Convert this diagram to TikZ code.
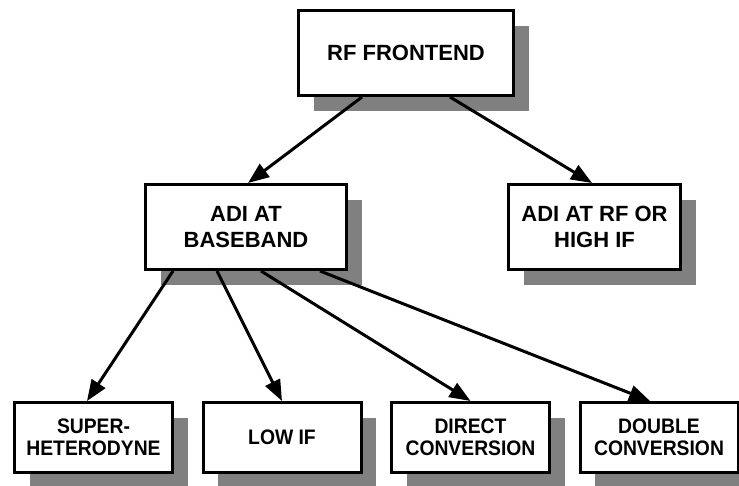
\documentclass[tikz,border=0pt]{standalone}
\usepackage{fontspec}
\setmainfont{Liberation Sans}
\newfontfamily\narrowsans[FakeStretch=0.92]{Liberation Sans}
\usetikzlibrary{arrows.meta,shadows}
\tikzset{
  box/.style={draw=black, line width=3pt, fill=white, align=center,
    font=\bfseries\fontsize{22}{26}\selectfont, inner sep=0pt,
    drop shadow={shadow xshift=15pt, shadow yshift=-15pt, fill=black!50, opacity=1}},
  topbox/.style={box, minimum height=85pt},
  leafbox/.style={box, minimum width=158pt, minimum height=70pt,
    font=\narrowsans\bfseries\fontsize{21}{22}\selectfont},
  arr/.style={line width=3pt, -{Triangle[length=21pt,width=16pt]}}
}
\begin{document}
\begin{tikzpicture}[x=1pt,y=-1pt]
  \useasboundingbox (0,0) rectangle (739,485);

  % upper levels
  \node[topbox, minimum width=215pt] (rf)   at (406,53)    {RF FRONTEND};
  \node[topbox, minimum width=201pt] (bb)   at (246,227)   {ADI AT\\BASEBAND};
  \node[topbox, minimum width=172pt] (rfhi) at (594.5,227) {ADI AT RF OR\\HIGH IF};

  % architectures at baseband
  \node[leafbox] (sh) at (93.5,437.5)  {SUPER-\\HETERODYNE};
  \node[leafbox] (lo) at (282,437.5)   {LOW IF};
  \node[leafbox] (dc) at (470.5,437.5) {DIRECT\\CONVERSION};
  \node[leafbox] (db) at (659,437.5)   {DOUBLE\\CONVERSION};

  % connectors
  \draw[arr] ([xshift=-44pt]rf.south) -- ([xshift=2pt]bb.north);
  \draw[arr] ([xshift=44pt]rf.south)  -- ([xshift=-2.5pt]rfhi.north);

  \draw[arr] ([xshift=-73pt]bb.south) -- ([xshift=-6.5pt]sh.north);
  \draw[arr] ([xshift=-29pt]bb.south) -- (lo.north);
  \draw[arr] ([xshift=15pt]bb.south)  -- (dc.north);
  \draw[arr] ([xshift=74pt]bb.south)  -- ([xshift=-9pt]db.north);
\end{tikzpicture}
\end{document}
